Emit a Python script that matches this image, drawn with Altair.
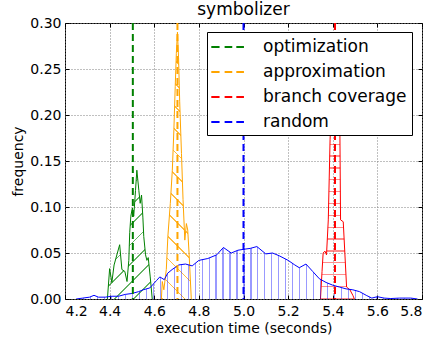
import math
import altair as alt
import pandas as pd

# Frequency polygons of execution time (seconds) -> relative frequency
opt_x = [4.390, 4.400, 4.410, 4.420, 4.445, 4.455, 4.468, 4.478, 4.486, 4.490, 4.495, 4.502, 4.508,
         4.516, 4.522, 4.531, 4.537, 4.543, 4.549, 4.553, 4.561, 4.567, 4.573, 4.582, 4.591]
opt_y = [0.000, 0.033, 0.018, 0.037, 0.059, 0.032, 0.030, 0.019, 0.042, 0.072, 0.090, 0.099, 0.090,
         0.118, 0.140, 0.118, 0.104, 0.113, 0.089, 0.068, 0.048, 0.042, 0.045, 0.024, 0.000]

approx_x = [4.632, 4.636, 4.643, 4.654, 4.661, 4.672, 4.681, 4.688, 4.694, 4.699, 4.704, 4.709,
            4.714, 4.722, 4.729, 4.737, 4.744, 4.750, 4.756, 4.766]
approx_y = [0.000, 0.019, 0.010, 0.032, 0.068, 0.104, 0.140, 0.184, 0.231, 0.267, 0.290, 0.262,
            0.215, 0.158, 0.108, 0.064, 0.082, 0.075, 0.050, 0.000]

branch_x = [5.345, 5.352, 5.357, 5.365, 5.372, 5.380, 5.388, 5.398, 5.415, 5.431, 5.435, 5.447,
            5.462, 5.477, 5.490, 5.497]
branch_y = [0.000, 0.030, 0.050, 0.052, 0.048, 0.086, 0.173, 0.235, 0.245, 0.215, 0.086, 0.084,
            0.013, 0.010, 0.004, 0.000]

random_x = [4.25, 4.28, 4.31, 4.33, 4.35, 4.38, 4.41, 4.44, 4.47, 4.50, 4.53, 4.55, 4.58, 4.61,
            4.625, 4.645, 4.66, 4.68, 4.71, 4.74, 4.77, 4.80, 4.84, 4.88, 4.91, 4.945, 4.975, 5.00,
            5.03, 5.06, 5.10, 5.13, 5.16, 5.20, 5.23, 5.25, 5.28, 5.31, 5.34, 5.37, 5.40, 5.43,
            5.46, 5.49, 5.52, 5.55, 5.575, 5.60, 5.63, 5.66, 5.70, 5.75, 5.78]
random_y = [0.000, 0.001, 0.002, 0.004, 0.002, 0.002, 0.003, 0.003, 0.005, 0.006, 0.008, 0.010,
            0.012, 0.020, 0.024, 0.021, 0.028, 0.032, 0.037, 0.038, 0.036, 0.042, 0.044, 0.048,
            0.056, 0.050, 0.053, 0.054, 0.055, 0.057, 0.049, 0.050, 0.047, 0.042, 0.037, 0.034,
            0.038, 0.030, 0.022, 0.018, 0.015, 0.013, 0.011, 0.010, 0.008, 0.004, 0.001, 0.0025,
            0.001, 0.0005, 0.001, 0.001, 0.000]

names = ["optimization", "approximation", "branch coverage", "random"]
means = [4.504, 4.704, 5.410, 5.000]

x_ticks = [4.2, 4.4, 4.6, 4.8, 5.0, 5.2, 5.4, 5.6, 5.8]
y_ticks = [0.00, 0.05, 0.10, 0.15, 0.20, 0.25, 0.30]

# styling
line_colors = ["#008000", "#ffa500", "#ff0000", "#0000ff"]
hatch_colors = ["rgba(0,128,0,0.6)", "rgba(255,165,0,0.75)", "rgba(255,0,0,0.45)", "rgba(0,0,255,0.4)"]
FONT = "DejaVu Sans"
W, H = 357, 276
PX = W / (x_ticks[-1] - x_ticks[0])
PY = H / y_ticks[-1]
CLEAR = "rgba(255,255,255,0)"


def stripe_stops(color, n, frac):
    stops = []
    for i in range(n):
        a = i / n
        b = a + frac / n
        stops += [alt.GradientStop(offset=a, color=CLEAR), alt.GradientStop(offset=a, color=color),
                  alt.GradientStop(offset=b, color=color), alt.GradientStop(offset=b, color=CLEAR)]
    return stops


def hatch(kind, xs, ys, color, spacing, lw=1.2):
    """Linear-gradient stripes laid over the area's bounding box."""
    w = (max(xs) - min(xs)) * PX
    h = max(ys) * PY
    if kind == "|":
        n = max(1, round(w / spacing))
        return alt.Gradient(gradient="linear", x1=0, y1=0, x2=1, y2=0,
                            stops=stripe_stops(color, n, lw * n / w))
    if kind == "-":
        n = max(1, round(h / spacing))
        return alt.Gradient(gradient="linear", x1=0, y1=1, x2=0, y2=0,
                            stops=stripe_stops(color, n, lw * n / h))
    k = (w + h) / (w * w + h * h)
    span = (w + h) / math.sqrt(2)
    n = max(1, round(span / spacing))
    if kind == "/":
        return alt.Gradient(gradient="linear", x1=0, y1=0, x2=w * k, y2=h * k,
                            stops=stripe_stops(color, n, lw * n / span))
    return alt.Gradient(gradient="linear", x1=0, y1=1, x2=w * k, y2=1 - h * k,
                        stops=stripe_stops(color, n, lw * n / span))


x_scale = alt.Scale(domain=[x_ticks[0], x_ticks[-1]], nice=False, zero=False)
y_scale = alt.Scale(domain=[y_ticks[0], y_ticks[-1]], nice=False)


def inward(orient, values):
    # tick-only axis pulled inside the frame
    return alt.Axis(orient=orient, offset=-4, values=values, labels=False, grid=False,
                    domain=False, ticks=True, tickSize=4, tickColor="black", tickWidth=1,
                    title=None)


x_main = alt.Axis(orient="bottom", values=x_ticks, format=".1f", title="execution time (seconds)",
                  labelPadding=5, titlePadding=3)
y_main = alt.Axis(orient="left", values=y_ticks, format=".2f", title="frequency",
                  labelPadding=4, titlePadding=4)
axis_sets = [(x_main, y_main), (inward("bottom", x_ticks), inward("left", y_ticks)),
             (inward("top", x_ticks), inward("right", y_ticks))]

series = [(opt_x, opt_y, "/", 14), (approx_x, approx_y, "\\", 16),
          (branch_x, branch_y, "-", 11.8), (random_x, random_y, "|", 7)]

layers = []
for (xs, ys, kind, spacing), name, lc, hc in zip(series, names, line_colors, hatch_colors):
    df = pd.DataFrame({"time": xs, "freq": ys, "series": name})
    for mark in ("area", "line"):
        idx = len(layers)
        ax, ay = axis_sets[idx] if idx < len(axis_sets) else (None, None)
        base = alt.Chart(df).encode(x=alt.X("time:Q", scale=x_scale, axis=ax),
                                    y=alt.Y("freq:Q", scale=y_scale, axis=ay))
        if mark == "area":
            layers.append(base.mark_area(fill=hatch(kind, xs, ys, hc, spacing), clip=True))
        else:
            layers.append(base.mark_line(color=lc, strokeWidth=1, clip=True))

mean_df = pd.DataFrame({"time": means, "series": names})
legend_symbol = "M-1.19,0H-0.27M0.29,0H1.14M1.59,0H2.44"
rules = alt.Chart(mean_df).mark_rule(strokeWidth=2, strokeDash=[7, 4]).encode(
    x=alt.X("time:Q", scale=x_scale, axis=None),
    color=alt.Color("series:N", scale=alt.Scale(domain=names, range=line_colors),
                    legend=alt.Legend(title=None, orient="none", legendX=142, legendY=9,
                                      direction="vertical", symbolType=legend_symbol,
                                      symbolSize=324, symbolStrokeWidth=2, symbolDash=[1, 0],
                                      labelFont=FONT, labelFontSize=17, labelColor="black",
                                      labelOffset=31, rowPadding=7, padding=5,
                                      strokeColor="black", fillColor="white", cornerRadius=0)),
)
layers.append(rules)

chart = alt.layer(*layers).resolve_axis(x="independent", y="independent").properties(
    width=W, height=H,
    title=alt.Title("symbolizer", font=FONT, fontSize=17, fontWeight="normal", color="black",
                    anchor="middle", baseline="alphabetic", offset=6, dy=22, frame="group"),
    padding={"left": 65, "top": 23, "right": 9, "bottom": 39},
    autosize="none",
).configure(font=FONT).configure_view(
    stroke="black", strokeWidth=1
).configure_axis(
    grid=True, gridColor="#808080", gridDash=[1, 2], gridWidth=1, domain=False, ticks=False,
    labelFont=FONT, labelFontSize=14, labelColor="black", titleFont=FONT, titleFontSize=14,
    titleFontWeight="normal", titleColor="black"
)

chart.save("out.html", embed_options={"renderer": "svg", "actions": False})
